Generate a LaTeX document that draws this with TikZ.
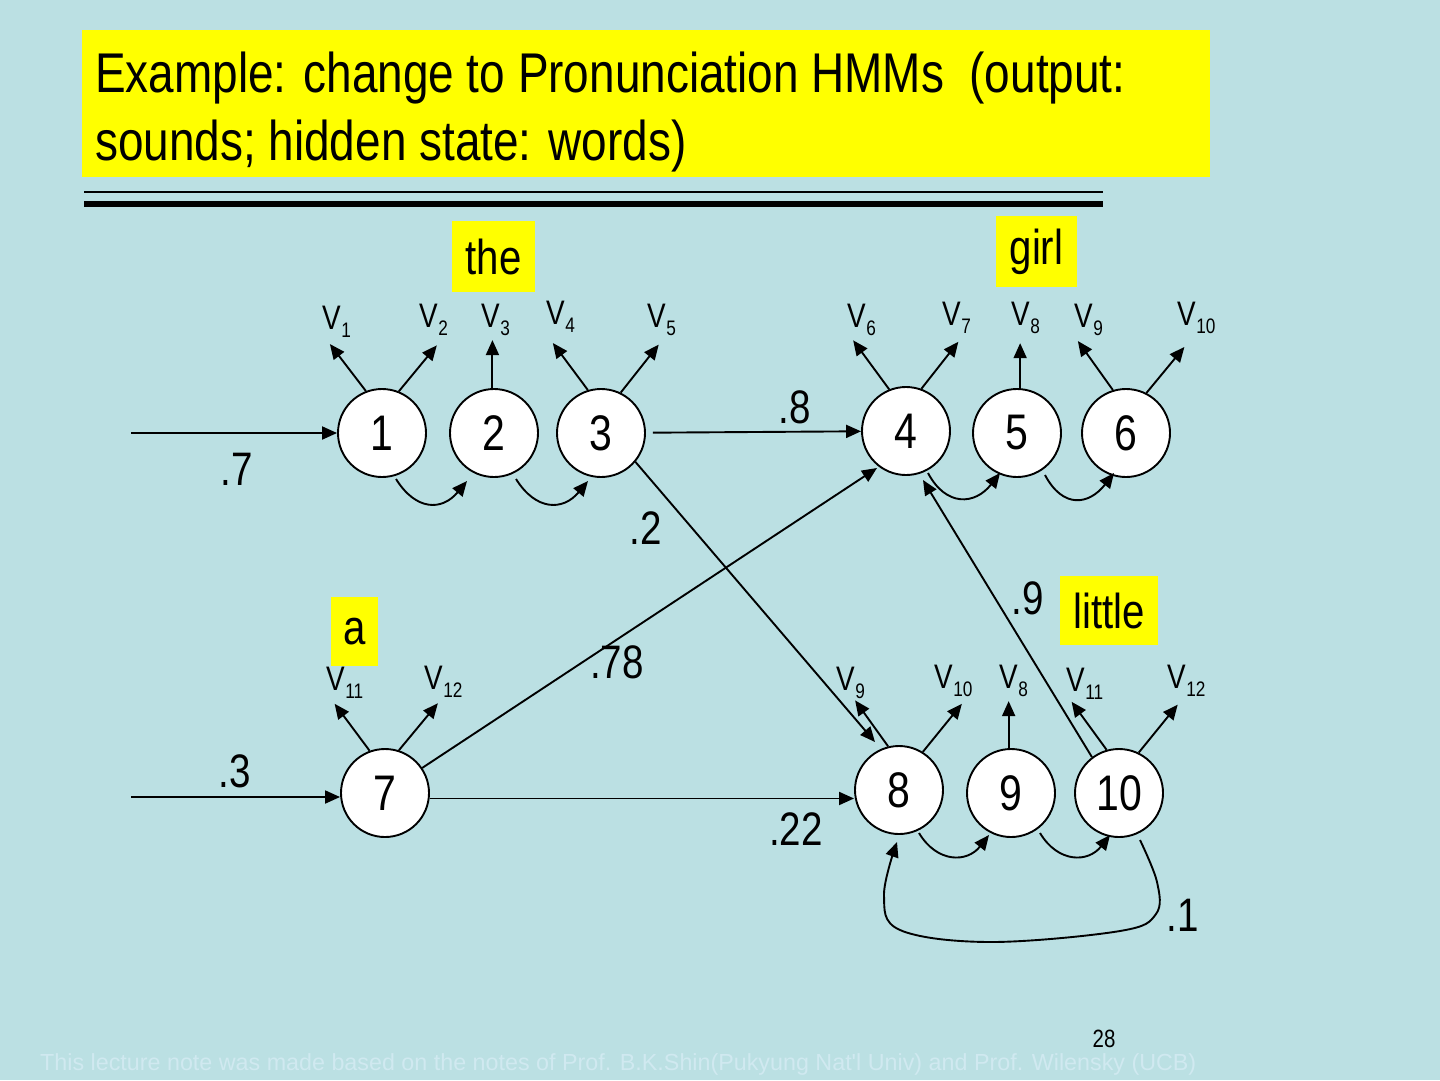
\documentclass[tikz,border=0pt]{standalone}
\usepackage{fontspec}
\setmainfont[FakeStretch=0.82]{Liberation Sans}
\newfontfamily\footfont{Liberation Sans}
\usetikzlibrary{arrows.meta}
\definecolor{bg}{RGB}{187,224,227}
\definecolor{hl}{RGB}{255,255,0}
\definecolor{foot}{RGB}{208,233,240}
\newcommand\vsub[1]{V\kern0.5pt\raisebox{-8pt}{\fontsize{21}{21}\selectfont #1}}
\begin{document}
\begin{tikzpicture}[x=1pt,y=-1pt,
  state/.style={circle,draw,line width=1.9pt,fill=white,minimum size=88pt,inner sep=0pt,font=\fontsize{50}{50}\selectfont},
  arr/.style={line width=1.9pt,-{Triangle[length=15pt,width=13pt]}},
  word/.style={fill=hl,inner sep=0pt,font=\fontsize{49}{49}\selectfont},
  vlab/.style={anchor=base west,inner sep=0pt,font=\fontsize{34}{34}\selectfont},
  prob/.style={inner sep=0pt,font=\fontsize{47}{47}\selectfont},
  titletext/.style={anchor=base west,inner sep=0pt,font=\fontsize{56}{56}\selectfont}
]
\fill[bg] (0,0) rectangle (1440,1080);
\useasboundingbox (0,0) rectangle (1440,1080);

% title
\node[fill=hl,minimum width=1128pt,minimum height=147pt,anchor=north west,inner sep=0pt] (titlebox) at (82,30) {};
\node[titletext] (t1) at (95,92) {Example: change to Pronunciation HMMs\ \ (output:};
\node[titletext] (t2) at (95,160) {sounds; hidden state: words)};
\fill (84,190.5) rectangle (1103,193);
\fill (84,201) rectangle (1103,207);

% word boxes
\node[word,minimum width=83pt,minimum height=71pt] (wthe) at (493.5,256.5) {the};
\node[word,minimum width=81pt,minimum height=71pt] (wgirl) at (1036.5,251.5) {girl};
\node[word,minimum width=98pt,minimum height=69pt] (wlittle) at (1109,610.5) {little};
\node[word,minimum width=47pt,minimum height=69pt] (wa) at (354.5,631.5) {a};

% states
\node[state] (n1) at (382,433) {1};
\node[state] (n2) at (494,433) {2};
\node[state] (n3) at (601,433) {3};
\node[state] (n4) at (906,431) {4};
\node[state] (n5) at (1017,433) {5};
\node[state] (n6) at (1126,433) {6};
\node[state] (n7) at (385,793) {7};
\node[state] (n8) at (899,790) {8};
\node[state] (n9) at (1011,793) {9};
\node[state] (n10) at (1119,793) {10};

% output labels
\node[vlab] (v1) at (322,329) {\vsub{1}};
\node[vlab] (v2) at (419,327) {\vsub{2}};
\node[vlab] (v3) at (481,327) {\vsub{3}};
\node[vlab] (v4) at (546,324) {\vsub{4}};
\node[vlab] (v5) at (647,327) {\vsub{5}};
\node[vlab] (v6) at (847,327) {\vsub{6}};
\node[vlab] (v7) at (942,325) {\vsub{7}};
\node[vlab] (v8) at (1011,325) {\vsub{8}};
\node[vlab] (v9) at (1074,327) {\vsub{9}};
\node[vlab] (v10) at (1177,325) {\vsub{10}};
\node[vlab] (v11a) at (326,690) {\vsub{11}};
\node[vlab] (v12a) at (424,689) {\vsub{12}};
\node[vlab] (v9b) at (836,690) {\vsub{9}};
\node[vlab] (v10b) at (934,688) {\vsub{10}};
\node[vlab] (v8b) at (999,688) {\vsub{8}};
\node[vlab] (v11b) at (1066,691) {\vsub{11}};
\node[vlab] (v12b) at (1167,688) {\vsub{12}};

% emission arrows
\draw[arr] (n1.111) -- ++(-36,-47);
\draw[arr] (n1.68) -- ++(38,-46);
\draw[arr] (n2.92) -- ++(0,-48);
\draw[arr] (n3.107) -- ++(-35,-47);
\draw[arr] (n3.64) -- ++(38,-48);
\draw[arr] (n4.112) -- ++(-36,-49);
\draw[arr] (n4.70) -- ++(37,-47);
\draw[arr] (n5.86) -- ++(0,-45);
\draw[arr] (n6.107) -- ++(-35,-49);
\draw[arr] (n6.63) -- ++(38,-46);
\draw[arr] (n7.110) -- ++(-35,-47);
\draw[arr] (n7.72) -- ++(39,-47);
\draw[arr] (n8.104) -- ++(-33,-46);
\draw[arr] (n8.58) -- ++(39,-48);
\draw[arr] (n9.93) -- ++(0,-47);
\draw[arr] (n10.106) -- ++(-35,-48);
\draw[arr] (n10.64) -- ++(39,-48);

% transitions
\coordinate (s1) at (131,433);
\coordinate (s7) at (131,797);
\draw[arr] (s1) -- (n1);
\draw[arr,shorten <=7pt] (n3) -- (n4);
\draw[arr] (n3.-40) -- ([shift={(-24,-48)}]n8.center);
\draw[arr] (n7.34) -- ([shift={(-29,37)}]n4.center);
\draw[arr] (s7) -- (n7.west |- s7);
\draw[arr] (n7.-7) -- (n8.west |- n7.-7);
\draw[arr] (n10.127) -- ([shift={(17,49)}]n4.center);

% self-forward loops
\draw[arr] ([shift={(14,46)}]n1.center) .. controls +(20,32) and +(-25,30) .. ([shift={(-27,48)}]n2.center);
\draw[arr] ([shift={(22,46)}]n2.center) .. controls +(20,32) and +(-25,30) .. ([shift={(-13,48)}]n3.center);
\draw[arr] ([shift={(22,42)}]n4.center) .. controls +(18,34) and +(-25,32) .. ([shift={(-17,40)}]n5.center);
\draw[arr] ([shift={(28,42)}]n5.center) .. controls +(18,34) and +(-25,32) .. ([shift={(-12,40)}]n6.center);
\draw[arr] ([shift={(20,43)}]n8.center) .. controls +(18,30) and +(-22,28) .. ([shift={(-22,42)}]n9.center);
\draw[arr] ([shift={(29,40)}]n9.center) .. controls +(18,30) and +(-22,28) .. ([shift={(-9,42)}]n10.center);
\draw[arr] plot[smooth,tension=0.6] coordinates {([shift={(21,47)}]n10.center) (1157,882) (1156,914) (1120,931) (990,942) (900,930) (884,895) ([shift={(-2,52)}]n8.center)};

% probabilities
\node[prob] (p7) at (237,469) {.7};
\node[prob] (p8) at (795,407) {.8};
\node[prob] (p2) at (646,528) {.2};
\node[prob] (p78) at (617,662) {.78};
\node[prob] (p3) at (235,771) {.3};
\node[prob] (p22) at (796,829) {.22};
\node[prob] (p9) at (1028,598) {.9};
\node[prob] (p1) at (1183,915) {.1};

% footer
\node[inner sep=0pt,font=\fontsize{25}{25}\selectfont] (pg) at (1104,1039) {28};
\node[anchor=base west,inner sep=0pt,text=foot,font=\footfont\fontsize{23.3}{23.3}\selectfont] (ft) at (40,1070) {This lecture note was made based on the notes of Prof. B.K.Shin(Pukyung Nat'l Univ) and Prof. Wilensky (UCB)};
\end{tikzpicture}
\end{document}
